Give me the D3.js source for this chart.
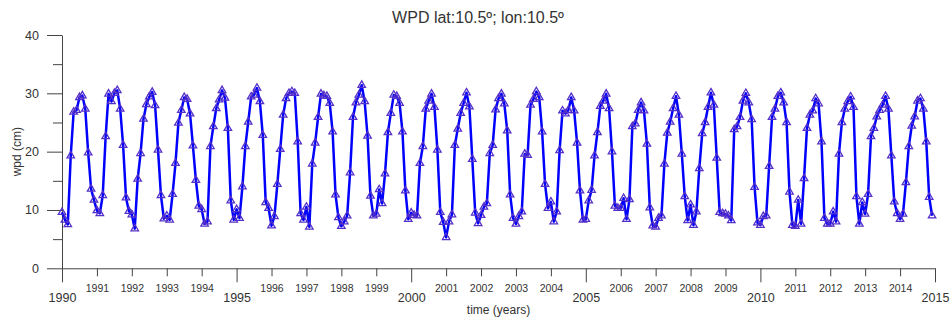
<!DOCTYPE html>
<html>
<head>
<meta charset="utf-8">
<script src="https://cdn.jsdelivr.net/npm/d3@7"></script>
<style>
  body { margin: 0; background: #fff; }
  svg { display: block; font-family: 'Liberation Sans', Arial, sans-serif; }
</style>
</head>
<body>
<div id="chart"></div>
<script>
// monthly wpd (cm), Jan 1990 .. Dec 2014, one row per year
const START_YEAR = 1990
const wpdMonthly = [
  9.6, 8.3, 7.5, 19.3, 26.8, 27.1, 29.3, 29.6, 27.3, 19.8, 13.6, 11.7,
  9.9, 9.4, 12.5, 22.6, 29.9, 28.6, 30.0, 30.5, 27.3, 21.1, 12.1, 9.8,
  9.2, 6.8, 15.3, 19.7, 25.6, 28.1, 29.4, 30.2, 27.9, 20.3, 12.5, 8.5,
  9.0, 8.3, 12.7, 18.0, 24.9, 27.1, 29.3, 29.0, 26.5, 21.0, 15.1, 10.7,
  10.1, 7.6, 8.0, 20.9, 24.3, 27.4, 28.9, 30.5, 29.2, 24.0, 11.6, 8.3,
  10.1, 8.6, 14.0, 20.9, 25.1, 29.4, 29.7, 30.9, 28.6, 22.8, 11.3, 10.3,
  7.3, 8.9, 14.4, 20.4, 26.3, 29.1, 30.0, 30.3, 30.0, 21.7, 9.4, 8.3,
  10.5, 7.1, 17.9, 21.5, 25.9, 29.9, 29.6, 29.5, 28.3, 23.4, 12.6, 8.7,
  7.2, 8.0, 9.0, 16.4, 25.9, 28.4, 29.7, 31.4, 28.6, 22.7, 12.4, 9.0,
  9.3, 13.5, 11.1, 16.2, 23.3, 26.6, 29.7, 29.5, 28.3, 23.4, 13.3, 8.4,
  9.5, 9.1, 9.0, 18.0, 20.9, 27.3, 28.7, 29.9, 27.6, 20.3, 9.6, 7.9,
  5.3, 8.0, 9.2, 21.1, 23.9, 26.6, 28.3, 30.1, 27.7, 18.7, 9.5, 7.7,
  9.1, 10.5, 11.1, 19.7, 21.1, 27.2, 29.1, 29.9, 28.2, 23.6, 12.6, 8.6,
  7.6, 8.9, 9.7, 19.6, 19.4, 28.0, 29.0, 30.3, 29.3, 23.4, 14.4, 10.3,
  11.4, 8.0, 9.7, 20.2, 27.0, 26.5, 27.1, 29.3, 27.0, 21.5, 13.3, 8.3,
  8.4, 11.6, 13.4, 19.3, 23.3, 27.8, 28.7, 29.9, 27.4, 20.0, 10.7, 10.3,
  10.3, 12.0, 8.4, 11.8, 24.3, 24.8, 27.1, 28.4, 27.0, 21.3, 10.4, 7.3,
  7.1, 8.6, 9.0, 17.9, 23.2, 25.1, 27.4, 29.5, 26.3, 19.6, 12.3, 8.2,
  10.9, 7.4, 9.7, 17.1, 23.1, 25.0, 27.6, 30.1, 28.0, 18.9, 9.6, 9.4,
  9.3, 9.0, 8.2, 23.8, 24.3, 25.9, 28.7, 30.0, 28.4, 25.5, 13.9, 7.8,
  7.4, 8.9, 9.0, 17.5, 25.9, 27.3, 29.5, 30.1, 28.4, 25.0, 13.1, 7.4,
  7.2, 11.7, 7.6, 15.4, 24.0, 26.3, 27.0, 29.1, 28.2, 21.7, 8.6, 7.6,
  7.6, 9.7, 8.0, 19.6, 25.0, 27.3, 28.6, 29.4, 27.6, 12.3, 7.6, 11.3,
  9.3, 12.7, 22.6, 24.0, 26.0, 27.1, 28.0, 29.5, 27.3, 19.3, 11.4, 9.4,
  8.4, 9.3, 14.7, 20.9, 24.4, 26.0, 28.7, 29.1, 27.3, 21.7, 12.2, 9.0
]

const yMajorTicks = [0, 10, 20, 30, 40]
const yMinorTicks = [5, 15, 25, 35]
const majorYears = [1990, 1995, 2000, 2005, 2010, 2015]
const minorYears = [1991, 1992, 1993, 1994, 1996, 1997, 1998, 1999, 2001, 2002, 2003, 2004,
  2006, 2007, 2008, 2009, 2011, 2012, 2013, 2014]

const config = {
  width: 952,
  height: 322,
  margins: { top: 35, right: 17, bottom: 53.7, left: 62 },
  title: 'WPD lat:10.5º; lon:10.5º',
  xTitle: 'time (years)',
  yTitle: 'wpd (cm)'
}

const AXIS_COLOR = '#444'
const TEXT_COLOR = '#333'

const { width, height, margins } = config
const plotBottom = height - margins.bottom

const xScale = d3.scaleLinear()
  .domain([majorYears[0], majorYears[majorYears.length - 1]])
  .range([margins.left, width - margins.right])

const yScale = d3.scaleLinear()
  .domain([0, 40])
  .range([plotBottom, margins.top])

const svg = d3.select('#chart').append('svg')
  .attr('width', width)
  .attr('height', height)
  .attr('viewBox', [0, 0, width, height].join(' '))

const styleAxis = (g, fontSize) => {
  g.selectAll('path').attr('stroke', AXIS_COLOR)
  g.selectAll('line').attr('stroke', AXIS_COLOR)
  g.selectAll('text')
    .attr('fill', TEXT_COLOR)
    .style('font-size', fontSize)
    .style('font-family', "'Liberation Sans', Arial, sans-serif")
}

// Y axis: major ticks with labels, minor ticks without
svg.append('g')
  .attr('transform', `translate(${margins.left}, 0)`)
  .call(d3.axisLeft(yScale).tickValues(yMajorTicks).tickSize(15).tickSizeOuter(0).tickPadding(8))
  .call(g => styleAxis(g, '12.5px'))

svg.append('g')
  .attr('transform', `translate(${margins.left}, 0)`)
  .call(d3.axisLeft(yScale).tickValues(yMinorTicks).tickSize(9).tickFormat(''))
  .call(g => g.select('.domain').remove())
  .call(g => styleAxis(g, '12px'))

// X axis: small year labels, larger labels every 5 years
svg.append('g')
  .attr('transform', `translate(0, ${plotBottom})`)
  .call(d3.axisBottom(xScale).tickValues(minorYears).tickSize(8).tickSizeOuter(0).tickPadding(8).tickFormat(d3.format('d')))
  .call(g => styleAxis(g, '10.5px'))

svg.append('g')
  .attr('transform', `translate(0, ${plotBottom})`)
  .call(d3.axisBottom(xScale).tickValues(majorYears).tickSize(14).tickPadding(11).tickFormat(d3.format('d')))
  .call(g => g.select('.domain').remove())
  .call(g => styleAxis(g, '12.5px'))

// Titles
svg.append('text')
  .attr('x', width / 2 + 2)
  .attr('y', 23)
  .attr('fill', TEXT_COLOR)
  .style('font-size', '16px')
  .style('text-anchor', 'middle')
  .text(config.title)

svg.append('text')
  .attr('x', (margins.left + width - margins.right) / 2)
  .attr('y', 314)
  .attr('fill', TEXT_COLOR)
  .style('font-size', '12px')
  .style('text-anchor', 'middle')
  .text(config.xTitle)

svg.append('text')
  .attr('transform', `translate(20.5, ${(margins.top + plotBottom) / 2}) rotate(-90)`)
  .attr('fill', TEXT_COLOR)
  .style('font-size', '12px')
  .style('text-anchor', 'middle')
  .text(config.yTitle)

// Series
const monthX = (d, i) => xScale(START_YEAR + i / 12)

const line = d3.line()
  .x(monthX)
  .y(d => yScale(d))

svg.append('path')
  .datum(wpdMonthly)
  .attr('d', line)
  .attr('fill', 'none')
  .attr('stroke', '#0000ff')
  .attr('stroke-width', 2.5)
  .attr('stroke-linejoin', 'round')

const triangle = d3.symbol(d3.symbolTriangle, 24)

svg.selectAll('.wpd-point')
  .data(wpdMonthly)
  .enter().append('path')
  .attr('class', 'wpd-point')
  .attr('d', triangle)
  .attr('transform', (d, i) => `translate(${monthX(d, i)}, ${yScale(d)})`)
  .attr('fill', 'none')
  .attr('stroke', '#5530c8')
  .attr('stroke-width', 1.3)
</script>
</body>
</html>
